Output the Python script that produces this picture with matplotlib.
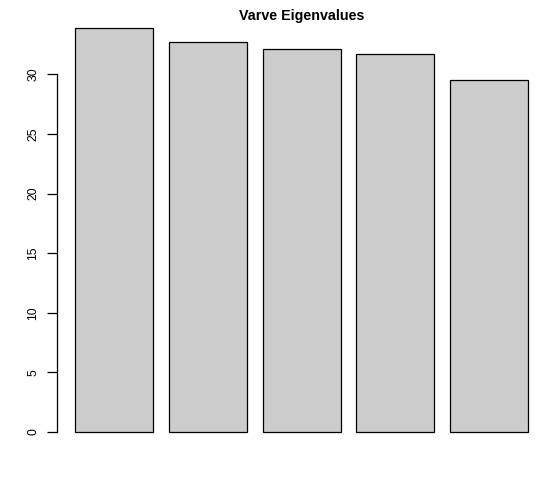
import matplotlib
matplotlib.use("Agg")
import matplotlib.pyplot as plt

categories = ["1", "2", "3", "4", "5"]
eigenvalues = [33.87, 32.69, 32.10, 31.70, 29.50]
yticks = [0, 5, 10, 15, 20, 25, 30]

plt.rcParams['font.family'] = ['Liberation Sans', 'DejaVu Sans']
W, H = 560, 480
fig = plt.figure(figsize=(W / 100, H / 100), dpi=100)
left, right, top, bottom = 57.2, 546.2, 12.2, 448.2
ax = fig.add_axes([left / W, 1 - bottom / H, (right - left) / W, (bottom - top) / H])

xs = [0.2 + 1.2 * i for i in range(len(categories))]
ax.bar(xs, eigenvalues, width=1.0, align='edge', color='#CCCCCC',
       edgecolor='black', linewidth=0.9)

n = len(categories)
xmin, xmax = 0.2, 0.2 + 1.2 * n - 0.2
pad = 0.04 * (xmax - xmin)
ax.set_xlim(xmin - pad, xmax + pad)
ymax = max(eigenvalues)
ax.set_ylim(-0.04 * ymax, ymax * 1.04)

for s in ['top', 'right', 'bottom']:
    ax.spines[s].set_visible(False)
ax.spines['left'].set_bounds(0, 30)
ax.spines['left'].set_linewidth(0.9)
ax.set_xticks([])
ax.set_yticks(yticks)
ax.set_yticklabels([str(t) for t in yticks], rotation=90, va='center')
ax.tick_params(axis='y', length=7, width=0.9, pad=6, labelsize=8.8)

fig.text((left + right) / 2 / W, 1 - 16 / H, "Varve Eigenvalues", ha='center',
         va='center', fontsize=10.3, fontweight='bold')

fig.savefig("out.png", dpi=100)
